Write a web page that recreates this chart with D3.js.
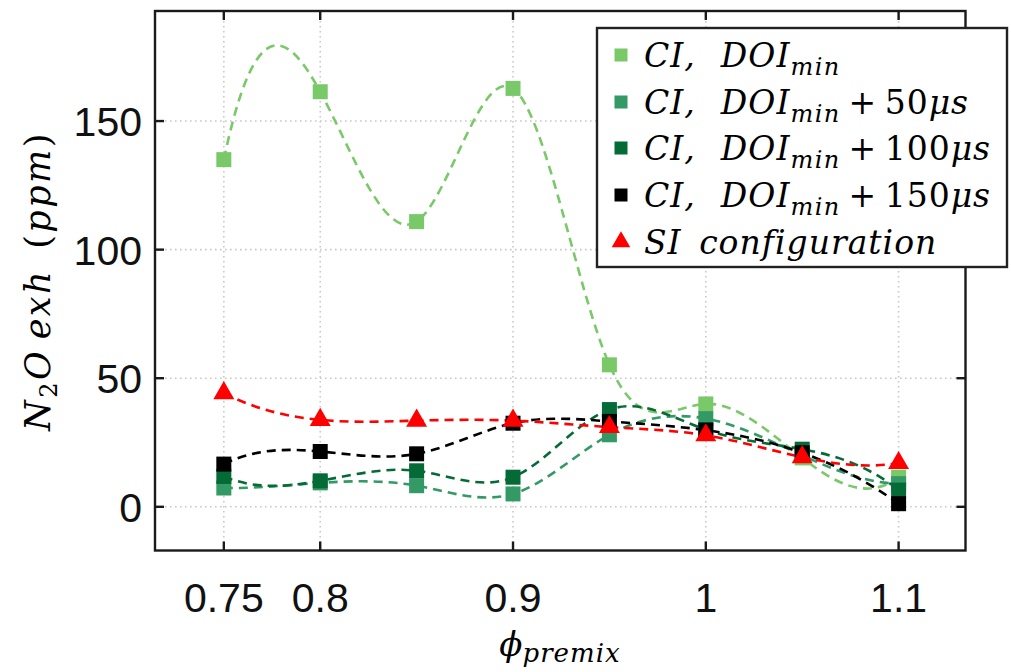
<!DOCTYPE html>
<html>
<head>
<meta charset="utf-8">
<script src="https://cdn.jsdelivr.net/npm/d3@7"></script>
<style>
  html, body { margin: 0; padding: 0; background: #fff; }
  svg { display: block; }
  .tick-label { font-family: "Liberation Sans", Arial, sans-serif; font-size: 41px; fill: #111; }
  .math { font-family: "DejaVu Serif", "Liberation Serif", serif; font-style: italic; fill: #000; }
  .up { font-style: normal; }
</style>
</head>
<body>
<svg id="chart" width="1011" height="672"></svg>
<script>
// Equivalence ratio of the premixed charge
const phi = [0.75, 0.8, 0.85, 0.9, 0.95, 1.0, 1.05, 1.1];

// Exhaust N2O (ppm) for each configuration
const ciDoiMin      = [135, 161.4, 110.9, 162.7, 55.2, 40.0, 19.0, 11.5];
const ciDoiMin50   = [7.3, 9.3, 8.2, 5.0, 28.0, 34.3, 20.0, 9.0];
const ciDoiMin100  = [11.8, 10.1, 14.0, 11.5, 37.8, 30.0, 22.4, 6.5];
const ciDoiMin150  = [16.6, 21.5, 20.6, 32.5, 33.2, 29.8, 21.0, 1.2];
const siConfig     = [44.2, 33.8, 33.5, 33.5, 31.0, 27.8, 19.3, 17.0];

// Axis ticks
const xTicks = [0.75, 0.8, 0.9, 1.0, 1.1];
const xTickLabels = ["0.75", "0.8", "0.9", "1", "1.1"];
const yTicks = [0, 50, 100, 150];

const series = [
  { values: ciDoiMin,     color: "#79c968", marker: "square",   sub: "" },
  { values: ciDoiMin50,   color: "#339a66", marker: "square",   sub: "50" },
  { values: ciDoiMin100,  color: "#046a36", marker: "square",   sub: "100" },
  { values: ciDoiMin150,  color: "#000000", marker: "square",   sub: "150" },
  { values: siConfig,     color: "#ff0000", marker: "triangle", sub: null }
];

// Cubic spline with not-a-knot end conditions, written as a d3 curve factory.
function curveNotAKnot(context) {
  let xs, ys;
  return {
    areaStart() {}, areaEnd() {},
    lineStart() { xs = []; ys = []; },
    point(px, py) { xs.push(+px); ys.push(+py); },
    lineEnd() {
      const n = xs.length;
      if (n === 0) return;
      context.moveTo(xs[0], ys[0]);
      if (n < 4) { for (let i = 1; i < n; i++) context.lineTo(xs[i], ys[i]); return; }
      const h = [];
      for (let i = 0; i < n - 1; i++) h.push(xs[i + 1] - xs[i]);
      // Linear system for second derivatives M
      const A = Array.from({ length: n }, () => new Array(n).fill(0));
      const b = new Array(n).fill(0);
      A[0][0] = h[1]; A[0][1] = -(h[0] + h[1]); A[0][2] = h[0];
      for (let i = 1; i < n - 1; i++) {
        A[i][i - 1] = h[i - 1];
        A[i][i] = 2 * (h[i - 1] + h[i]);
        A[i][i + 1] = h[i];
        b[i] = 6 * ((ys[i + 1] - ys[i]) / h[i] - (ys[i] - ys[i - 1]) / h[i - 1]);
      }
      A[n - 1][n - 3] = h[n - 2]; A[n - 1][n - 2] = -(h[n - 3] + h[n - 2]); A[n - 1][n - 1] = h[n - 3];
      // Gaussian elimination with partial pivoting
      for (let c = 0; c < n; c++) {
        let p = c;
        for (let r = c + 1; r < n; r++) if (Math.abs(A[r][c]) > Math.abs(A[p][c])) p = r;
        [A[c], A[p]] = [A[p], A[c]]; [b[c], b[p]] = [b[p], b[c]];
        for (let r = c + 1; r < n; r++) {
          const f = A[r][c] / A[c][c];
          for (let k = c; k < n; k++) A[r][k] -= f * A[c][k];
          b[r] -= f * b[c];
        }
      }
      const M = new Array(n).fill(0);
      for (let r = n - 1; r >= 0; r--) {
        let s = b[r];
        for (let k = r + 1; k < n; k++) s -= A[r][k] * M[k];
        M[r] = s / A[r][r];
      }
      for (let i = 0; i < n - 1; i++) {
        const hi = h[i], slope = (ys[i + 1] - ys[i]) / hi;
        const d0 = slope - hi * (2 * M[i] + M[i + 1]) / 6;
        const d1 = slope + hi * (M[i] + 2 * M[i + 1]) / 6;
        context.bezierCurveTo(
          xs[i] + hi / 3, ys[i] + d0 * hi / 3,
          xs[i + 1] - hi / 3, ys[i + 1] - d1 * hi / 3,
          xs[i + 1], ys[i + 1]);
      }
    }
  };
}

const svg = d3.select("#chart");
const box = { left: 155, right: 965.5, top: 11, bottom: 550.5 };

const x = d3.scaleLinear().domain([0.7143, 1.1347]).range([box.left, box.right]);
const y = d3.scaleLinear().domain([-17, 192.8]).range([box.bottom, box.top]);

// Dotted grid
const grid = svg.append("g");
xTicks.forEach(t => {
  grid.append("line")
    .attr("x1", x(t)).attr("x2", x(t)).attr("y1", box.top).attr("y2", box.bottom)
    .attr("stroke", "#c8c8c8").attr("stroke-width", 1.6).attr("stroke-dasharray", "1.6,3.4");
});
yTicks.forEach(t => {
  grid.append("line")
    .attr("x1", box.left).attr("x2", box.right).attr("y1", y(t)).attr("y2", y(t))
    .attr("stroke", "#c8c8c8").attr("stroke-width", 1.6).attr("stroke-dasharray", "1.6,3.4");
});

// Spline curves and markers
const line = d3.line()
  .x((d, i) => x(phi[i]))
  .y(d => y(d))
  .curve(curveNotAKnot);

const plot = svg.append("g");
series.forEach(s => {
  plot.append("path")
    .attr("d", line(s.values))
    .attr("fill", "none")
    .attr("stroke", s.color)
    .attr("stroke-width", 2.6)
    .attr("stroke-dasharray", "9,6");
});

const sq = 15;
const triSize = 190;
series.forEach(s => {
  const g = plot.append("g");
  s.values.forEach((v, i) => {
    if (s.marker === "square") {
      g.append("rect")
        .attr("x", x(phi[i]) - sq / 2).attr("y", y(v) - sq / 2)
        .attr("width", sq).attr("height", sq)
        .attr("fill", s.color);
    } else {
      g.append("path")
        .attr("d", d3.symbol(d3.symbolTriangle, triSize)())
        .attr("transform", `translate(${x(phi[i])},${y(v)})`)
        .attr("fill", s.color);
    }
  });
});

// Axes box with inward ticks
const axes = svg.append("g");
axes.append("rect")
  .attr("x", box.left).attr("y", box.top)
  .attr("width", box.right - box.left).attr("height", box.bottom - box.top)
  .attr("fill", "none").attr("stroke", "#1a1a1a").attr("stroke-width", 2.4);
const tl = 9;
xTicks.forEach(t => {
  axes.append("line").attr("x1", x(t)).attr("x2", x(t)).attr("y1", box.bottom).attr("y2", box.bottom - tl)
    .attr("stroke", "#1a1a1a").attr("stroke-width", 2.4);
  axes.append("line").attr("x1", x(t)).attr("x2", x(t)).attr("y1", box.top).attr("y2", box.top + tl)
    .attr("stroke", "#1a1a1a").attr("stroke-width", 2.4);
});
yTicks.forEach(t => {
  axes.append("line").attr("x1", box.left).attr("x2", box.left + tl).attr("y1", y(t)).attr("y2", y(t))
    .attr("stroke", "#1a1a1a").attr("stroke-width", 2.4);
  axes.append("line").attr("x1", box.right).attr("x2", box.right - tl).attr("y1", y(t)).attr("y2", y(t))
    .attr("stroke", "#1a1a1a").attr("stroke-width", 2.4);
});

// Tick labels
xTicks.forEach((t, i) => {
  svg.append("text").attr("class", "tick-label")
    .attr("x", x(t)).attr("y", 612)
    .attr("text-anchor", "middle")
    .text(xTickLabels[i]);
});
yTicks.forEach(t => {
  svg.append("text").attr("class", "tick-label")
    .attr("x", 142).attr("y", y(t) + 15)
    .attr("text-anchor", "end")
    .text(String(t));
});

// X axis label: phi_premix
const xl = svg.append("text").attr("class", "math")
  .attr("x", 560).attr("y", 656).attr("text-anchor", "middle")
  .style("font-size", "34px");
xl.append("tspan").text("ϕ");
xl.append("tspan").attr("dy", 6).style("font-size", "26px").style("letter-spacing", "1px").text("premix");

// Y axis label: N2O exh (ppm)
const yl = svg.append("text").attr("class", "math")
  .attr("transform", "translate(50,281) rotate(-90)")
  .attr("text-anchor", "middle")
  .style("font-size", "35px").style("letter-spacing", "2.5px");
yl.append("tspan").text("N");
yl.append("tspan").attr("class", "up").attr("dy", 7).style("font-size", "24px").text("2");
yl.append("tspan").attr("dy", -7).text("O\u2009exh\u2002");
yl.append("tspan").attr("class", "up").text("(");
yl.append("tspan").text("ppm");
yl.append("tspan").attr("class", "up").text(")");

// Legend
const lg = svg.append("g");
lg.append("rect")
  .attr("x", 597).attr("y", 28).attr("width", 410).attr("height", 239)
  .attr("fill", "#fff").attr("stroke", "#222").attr("stroke-width", 2.4);
const rowY = [55, 102, 148, 195, 242];
series.forEach((s, i) => {
  const cy = rowY[i];
  if (s.marker === "square") {
    lg.append("rect").attr("x", 621 - 6.5).attr("y", cy - 6.5).attr("width", 13).attr("height", 13).attr("fill", s.color);
  } else {
    lg.append("path").attr("d", d3.symbol(d3.symbolTriangle, 150)())
      .attr("transform", `translate(621,${cy})`).attr("fill", s.color);
  }
  const t = lg.append("text").attr("class", "math")
    .attr("x", 644).attr("y", cy + 12).style("font-size", "33px").style("letter-spacing", "1px");
  if (s.sub === null) {
    t.text("SI\u2002configuration");
  } else {
    t.append("tspan").text("CI,\u2002\u2009DOI");
    t.append("tspan").attr("dy", 8).style("font-size", "24px").style("letter-spacing", "1.5px").text("min");
    if (s.sub !== "") {
      t.append("tspan").attr("dy", -8).attr("class", "up").text("\u2009+\u2009" + s.sub);
      t.append("tspan").text("μs");
    }
  }
});
</script>
</body>
</html>
